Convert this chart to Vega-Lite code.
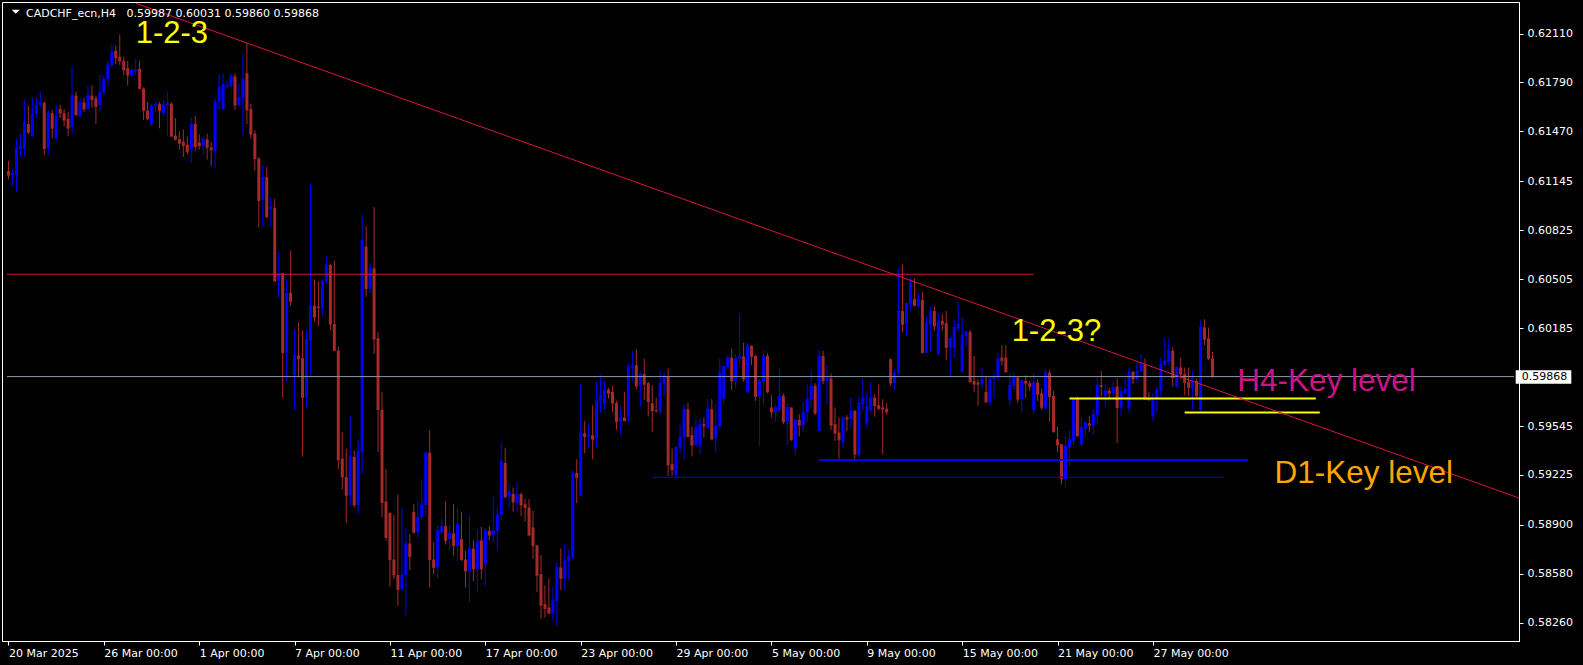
{
"$schema":"https://vega.github.io/schema/vega-lite/v6.json",
"background":"#000000",
"width":1517,"height":639,
"autosize":{"type":"none"},
"padding":{"left":2,"top":2,"right":64,"bottom":24},
"datasets":{
"candles":[
{"i":0,"o":0.61211,"h":0.61278,"l":0.61158,"c":0.61184},
{"i":1,"o":0.61184,"h":0.61224,"l":0.61118,"c":0.61198},
{"i":2,"o":0.61184,"h":0.61424,"l":0.61078,"c":0.61358},
{"i":3,"o":0.61358,"h":0.61451,"l":0.61304,"c":0.61371},
{"i":4,"o":0.61358,"h":0.61678,"l":0.61304,"c":0.61531},
{"i":5,"o":0.61518,"h":0.61638,"l":0.61451,"c":0.61464},
{"i":6,"o":0.61438,"h":0.61691,"l":0.61438,"c":0.61584},
{"i":7,"o":0.61584,"h":0.61691,"l":0.61558,"c":0.61643},
{"i":8,"o":0.61643,"h":0.61731,"l":0.61624,"c":0.61659},
{"i":9,"o":0.61659,"h":0.61664,"l":0.61318,"c":0.61358},
{"i":10,"o":0.61358,"h":0.61611,"l":0.61318,"c":0.6159},
{"i":11,"o":0.6159,"h":0.61611,"l":0.61424,"c":0.61491},
{"i":12,"o":0.61424,"h":0.61643,"l":0.61411,"c":0.61571},
{"i":13,"o":0.61616,"h":0.61643,"l":0.61558,"c":0.6159},
{"i":14,"o":0.6159,"h":0.61616,"l":0.61504,"c":0.61544},
{"i":15,"o":0.61552,"h":0.61598,"l":0.61438,"c":0.61491},
{"i":16,"o":0.61499,"h":0.61891,"l":0.61451,"c":0.61704},
{"i":17,"o":0.61704,"h":0.61731,"l":0.61571,"c":0.61579},
{"i":18,"o":0.61571,"h":0.61691,"l":0.61558,"c":0.61659},
{"i":19,"o":0.61659,"h":0.61691,"l":0.61598,"c":0.61616},
{"i":20,"o":0.61616,"h":0.61771,"l":0.61611,"c":0.61704},
{"i":21,"o":0.61704,"h":0.61771,"l":0.61624,"c":0.61678},
{"i":22,"o":0.61686,"h":0.61704,"l":0.61518,"c":0.61632},
{"i":23,"o":0.61643,"h":0.61838,"l":0.61598,"c":0.61723},
{"i":24,"o":0.61723,"h":0.61838,"l":0.61704,"c":0.61811},
{"i":25,"o":0.61811,"h":0.61931,"l":0.61771,"c":0.61904},
{"i":26,"o":0.61904,"h":0.62038,"l":0.61891,"c":0.6199},
{"i":27,"o":0.61998,"h":0.62032,"l":0.6191,"c":0.6195},
{"i":28,"o":0.61958,"h":0.62104,"l":0.61904,"c":0.61931},
{"i":29,"o":0.61931,"h":0.61958,"l":0.61838,"c":0.61872},
{"i":30,"o":0.61883,"h":0.61931,"l":0.61771,"c":0.61838},
{"i":31,"o":0.61838,"h":0.61883,"l":0.61824,"c":0.6187},
{"i":32,"o":0.61864,"h":0.61944,"l":0.61838,"c":0.61872},
{"i":33,"o":0.61878,"h":0.61931,"l":0.61744,"c":0.6175},
{"i":34,"o":0.6175,"h":0.61758,"l":0.61544,"c":0.61606},
{"i":35,"o":0.61606,"h":0.61664,"l":0.61544,"c":0.61552},
{"i":36,"o":0.61518,"h":0.61651,"l":0.61504,"c":0.61638},
{"i":37,"o":0.61638,"h":0.61664,"l":0.61598,"c":0.61648},
{"i":38,"o":0.61648,"h":0.61664,"l":0.61491,"c":0.61606},
{"i":39,"o":0.6159,"h":0.61678,"l":0.61571,"c":0.61643},
{"i":40,"o":0.61643,"h":0.61731,"l":0.61438,"c":0.61651},
{"i":41,"o":0.61651,"h":0.61659,"l":0.61438,"c":0.61438},
{"i":42,"o":0.61443,"h":0.61558,"l":0.61411,"c":0.61419},
{"i":43,"o":0.61419,"h":0.61472,"l":0.6135,"c":0.61392},
{"i":44,"o":0.61403,"h":0.61483,"l":0.61304,"c":0.61376},
{"i":45,"o":0.61384,"h":0.61438,"l":0.61323,"c":0.61339},
{"i":46,"o":0.6135,"h":0.61563,"l":0.61264,"c":0.61518},
{"i":47,"o":0.61518,"h":0.61571,"l":0.61344,"c":0.61371},
{"i":48,"o":0.61398,"h":0.61451,"l":0.6135,"c":0.61376},
{"i":49,"o":0.61376,"h":0.61438,"l":0.61318,"c":0.61419},
{"i":50,"o":0.61419,"h":0.61456,"l":0.61286,"c":0.61366},
{"i":51,"o":0.61366,"h":0.61403,"l":0.61243,"c":0.6135},
{"i":52,"o":0.61344,"h":0.61691,"l":0.61232,"c":0.61664},
{"i":53,"o":0.61664,"h":0.61846,"l":0.61611,"c":0.61758},
{"i":54,"o":0.61616,"h":0.61851,"l":0.61611,"c":0.61776},
{"i":55,"o":0.61763,"h":0.61798,"l":0.6175,"c":0.61768},
{"i":56,"o":0.61766,"h":0.61851,"l":0.61758,"c":0.6183},
{"i":57,"o":0.6183,"h":0.61851,"l":0.61611,"c":0.61643},
{"i":58,"o":0.61643,"h":0.61784,"l":0.61632,"c":0.61691},
{"i":59,"o":0.61691,"h":0.61971,"l":0.61438,"c":0.61811},
{"i":60,"o":0.61851,"h":0.62051,"l":0.61518,"c":0.61611},
{"i":61,"o":0.61616,"h":0.61651,"l":0.61424,"c":0.61451},
{"i":62,"o":0.61456,"h":0.61478,"l":0.61216,"c":0.61291},
{"i":63,"o":0.61291,"h":0.61304,"l":0.60844,"c":0.61019},
{"i":64,"o":0.61024,"h":0.61251,"l":0.60851,"c":0.61171},
{"i":65,"o":0.61171,"h":0.61238,"l":0.60904,"c":0.60912},
{"i":66,"o":0.60966,"h":0.61038,"l":0.60851,"c":0.60976},
{"i":67,"o":0.60971,"h":0.6103,"l":0.60491,"c":0.60491},
{"i":68,"o":0.60491,"h":0.60683,"l":0.60384,"c":0.60539},
{"i":69,"o":0.60544,"h":0.60544,"l":0.59731,"c":0.60024},
{"i":70,"o":0.60024,"h":0.60504,"l":0.59837,"c":0.60411},
{"i":71,"o":0.60416,"h":0.60691,"l":0.60331,"c":0.60358},
{"i":72,"o":0.59878,"h":0.60176,"l":0.59651,"c":0.60006},
{"i":73,"o":0.60006,"h":0.60222,"l":0.59864,"c":0.59984},
{"i":74,"o":0.59989,"h":0.60171,"l":0.59344,"c":0.59731},
{"i":75,"o":0.59731,"h":0.60171,"l":0.59664,"c":0.60112},
{"i":76,"o":0.60104,"h":0.61131,"l":0.59878,"c":0.60331},
{"i":77,"o":0.60331,"h":0.60504,"l":0.60224,"c":0.60256},
{"i":78,"o":0.60326,"h":0.60491,"l":0.60198,"c":0.60318},
{"i":79,"o":0.60318,"h":0.60504,"l":0.60264,"c":0.60491},
{"i":80,"o":0.60491,"h":0.60651,"l":0.60478,"c":0.60598},
{"i":81,"o":0.60598,"h":0.60603,"l":0.60171,"c":0.60211},
{"i":82,"o":0.60211,"h":0.60624,"l":0.60038,"c":0.60038},
{"i":83,"o":0.60038,"h":0.60064,"l":0.59264,"c":0.59323},
{"i":84,"o":0.59331,"h":0.59504,"l":0.59131,"c":0.59211},
{"i":85,"o":0.59211,"h":0.59397,"l":0.58912,"c":0.59091},
{"i":86,"o":0.59091,"h":0.59611,"l":0.59024,"c":0.59344},
{"i":87,"o":0.59344,"h":0.59384,"l":0.59011,"c":0.59029},
{"i":88,"o":0.59029,"h":0.59456,"l":0.58971,"c":0.59376},
{"i":89,"o":0.59376,"h":0.60923,"l":0.59232,"c":0.60758},
{"i":90,"o":0.60718,"h":0.60851,"l":0.6039,"c":0.60443},
{"i":91,"o":0.60443,"h":0.60611,"l":0.60411,"c":0.60576},
{"i":92,"o":0.60576,"h":0.60976,"l":0.60016,"c":0.60112},
{"i":93,"o":0.60118,"h":0.60158,"l":0.59376,"c":0.59651},
{"i":94,"o":0.59651,"h":0.59765,"l":0.58949,"c":0.59045},
{"i":95,"o":0.59051,"h":0.59264,"l":0.58797,"c":0.58816},
{"i":96,"o":0.58976,"h":0.58984,"l":0.58496,"c":0.58672},
{"i":97,"o":0.58672,"h":0.58965,"l":0.58544,"c":0.58571},
{"i":98,"o":0.58571,"h":0.59099,"l":0.58371,"c":0.58477},
{"i":99,"o":0.58477,"h":0.59011,"l":0.58469,"c":0.58571},
{"i":100,"o":0.58571,"h":0.58877,"l":0.58309,"c":0.58776},
{"i":101,"o":0.58776,"h":0.58837,"l":0.58603,"c":0.58691},
{"i":102,"o":0.58984,"h":0.59037,"l":0.58843,"c":0.58851},
{"i":103,"o":0.58851,"h":0.59051,"l":0.58816,"c":0.58949},
{"i":104,"o":0.58949,"h":0.59197,"l":0.58931,"c":0.59029},
{"i":105,"o":0.59029,"h":0.59376,"l":0.58957,"c":0.59371},
{"i":106,"o":0.59371,"h":0.59517,"l":0.58491,"c":0.58672},
{"i":107,"o":0.58672,"h":0.58784,"l":0.58576,"c":0.58619},
{"i":108,"o":0.58619,"h":0.58891,"l":0.58549,"c":0.58864},
{"i":109,"o":0.58851,"h":0.58939,"l":0.58837,"c":0.58891},
{"i":110,"o":0.58891,"h":0.59051,"l":0.58771,"c":0.58797},
{"i":111,"o":0.58805,"h":0.58891,"l":0.58731,"c":0.58843},
{"i":112,"o":0.58843,"h":0.59037,"l":0.58699,"c":0.58763},
{"i":113,"o":0.58763,"h":0.59011,"l":0.58664,"c":0.58904},
{"i":114,"o":0.58805,"h":0.58984,"l":0.58664,"c":0.58672},
{"i":115,"o":0.58672,"h":0.58731,"l":0.58491,"c":0.58597},
{"i":116,"o":0.58597,"h":0.58957,"l":0.58397,"c":0.58744},
{"i":117,"o":0.58744,"h":0.58797,"l":0.58531,"c":0.58611},
{"i":118,"o":0.58611,"h":0.58869,"l":0.58464,"c":0.58789},
{"i":119,"o":0.58797,"h":0.58885,"l":0.58544,"c":0.58611},
{"i":120,"o":0.58645,"h":0.58877,"l":0.58504,"c":0.58864},
{"i":121,"o":0.58859,"h":0.58891,"l":0.58797,"c":0.58832},
{"i":122,"o":0.58832,"h":0.59083,"l":0.58784,"c":0.58859},
{"i":123,"o":0.58859,"h":0.59011,"l":0.58731,"c":0.58965},
{"i":124,"o":0.58965,"h":0.59437,"l":0.58931,"c":0.59312},
{"i":125,"o":0.59304,"h":0.59403,"l":0.59072,"c":0.59083},
{"i":126,"o":0.59083,"h":0.59165,"l":0.59012,"c":0.59115},
{"i":127,"o":0.591,"h":0.59143,"l":0.58984,"c":0.59049},
{"i":128,"o":0.59041,"h":0.59176,"l":0.5898,"c":0.591},
{"i":129,"o":0.591,"h":0.5911,"l":0.58958,"c":0.59028},
{"i":130,"o":0.59034,"h":0.59071,"l":0.58919,"c":0.59012},
{"i":131,"o":0.59012,"h":0.59067,"l":0.58827,"c":0.58832},
{"i":132,"o":0.58882,"h":0.58991,"l":0.58675,"c":0.58762},
{"i":133,"o":0.58766,"h":0.58766,"l":0.58461,"c":0.5857},
{"i":134,"o":0.58577,"h":0.58701,"l":0.58283,"c":0.58374},
{"i":135,"o":0.58381,"h":0.58505,"l":0.58294,"c":0.58352},
{"i":136,"o":0.58359,"h":0.58548,"l":0.58315,"c":0.58322},
{"i":137,"o":0.58322,"h":0.58496,"l":0.58272,"c":0.58403},
{"i":138,"o":0.58403,"h":0.58653,"l":0.58239,"c":0.5862},
{"i":139,"o":0.5862,"h":0.58745,"l":0.58474,"c":0.58548},
{"i":140,"o":0.58548,"h":0.58773,"l":0.58474,"c":0.58664},
{"i":141,"o":0.58664,"h":0.5874,"l":0.5854,"c":0.58692},
{"i":142,"o":0.58686,"h":0.59252,"l":0.58675,"c":0.59237},
{"i":143,"o":0.59237,"h":0.59328,"l":0.59041,"c":0.59208},
{"i":144,"o":0.59089,"h":0.59818,"l":0.59084,"c":0.59498},
{"i":145,"o":0.59498,"h":0.59579,"l":0.59367,"c":0.59476},
{"i":146,"o":0.5948,"h":0.59563,"l":0.59398,"c":0.59485},
{"i":147,"o":0.59485,"h":0.59681,"l":0.59328,"c":0.59459},
{"i":148,"o":0.59463,"h":0.59834,"l":0.59404,"c":0.59709},
{"i":149,"o":0.59709,"h":0.59877,"l":0.59633,"c":0.59746},
{"i":150,"o":0.59688,"h":0.5984,"l":0.59655,"c":0.59781},
{"i":151,"o":0.59781,"h":0.59796,"l":0.59725,"c":0.59759},
{"i":152,"o":0.59768,"h":0.59807,"l":0.59637,"c":0.59694},
{"i":153,"o":0.59694,"h":0.59709,"l":0.5952,"c":0.59572},
{"i":154,"o":0.59572,"h":0.59666,"l":0.59485,"c":0.596},
{"i":155,"o":0.596,"h":0.59768,"l":0.59579,"c":0.59579},
{"i":156,"o":0.59607,"h":0.59949,"l":0.59572,"c":0.59927},
{"i":157,"o":0.59927,"h":0.60036,"l":0.5984,"c":0.59938},
{"i":158,"o":0.59942,"h":0.60047,"l":0.59786,"c":0.59807},
{"i":159,"o":0.59807,"h":0.59899,"l":0.59672,"c":0.59884},
{"i":160,"o":0.59884,"h":0.59986,"l":0.59716,"c":0.59818},
{"i":161,"o":0.59825,"h":0.59834,"l":0.59607,"c":0.59703},
{"i":162,"o":0.59694,"h":0.59812,"l":0.59507,"c":0.59644},
{"i":163,"o":0.59648,"h":0.59731,"l":0.59633,"c":0.59644},
{"i":164,"o":0.59637,"h":0.59905,"l":0.59622,"c":0.59825},
{"i":165,"o":0.59818,"h":0.59899,"l":0.59742,"c":0.59868},
{"i":166,"o":0.59868,"h":0.59921,"l":0.59219,"c":0.59289},
{"i":167,"o":0.59296,"h":0.59398,"l":0.59219,"c":0.59259},
{"i":168,"o":0.59224,"h":0.59415,"l":0.59202,"c":0.59404},
{"i":169,"o":0.59404,"h":0.5955,"l":0.59367,"c":0.5947},
{"i":170,"o":0.5947,"h":0.59688,"l":0.59324,"c":0.59655},
{"i":171,"o":0.59655,"h":0.59698,"l":0.5947,"c":0.59476},
{"i":172,"o":0.59485,"h":0.59542,"l":0.59346,"c":0.5942},
{"i":173,"o":0.5942,"h":0.59594,"l":0.59411,"c":0.59535},
{"i":174,"o":0.59415,"h":0.59594,"l":0.59361,"c":0.59557},
{"i":175,"o":0.59557,"h":0.596,"l":0.5947,"c":0.59546},
{"i":176,"o":0.59535,"h":0.5972,"l":0.59529,"c":0.59655},
{"i":177,"o":0.59655,"h":0.5972,"l":0.59455,"c":0.59459},
{"i":178,"o":0.59463,"h":0.59688,"l":0.59372,"c":0.59546},
{"i":179,"o":0.59546,"h":0.59986,"l":0.5952,"c":0.59894},
{"i":180,"o":0.59725,"h":0.59942,"l":0.59688,"c":0.59934},
{"i":181,"o":0.59927,"h":0.60008,"l":0.59916,"c":0.59992},
{"i":182,"o":0.59992,"h":0.60051,"l":0.59781,"c":0.5984},
{"i":183,"o":0.5984,"h":0.60014,"l":0.59796,"c":0.59986},
{"i":184,"o":0.59986,"h":0.60282,"l":0.59942,"c":0.59999},
{"i":185,"o":0.59999,"h":0.6009,"l":0.59834,"c":0.59851},
{"i":186,"o":0.59764,"h":0.60086,"l":0.59764,"c":0.60069},
{"i":187,"o":0.60069,"h":0.60073,"l":0.59942,"c":0.59999},
{"i":188,"o":0.60003,"h":0.60008,"l":0.59709,"c":0.59738},
{"i":189,"o":0.59738,"h":0.59855,"l":0.59415,"c":0.5984},
{"i":190,"o":0.59834,"h":0.60036,"l":0.59688,"c":0.60003},
{"i":191,"o":0.60003,"h":0.60021,"l":0.59759,"c":0.59768},
{"i":192,"o":0.59666,"h":0.59746,"l":0.596,"c":0.59637},
{"i":193,"o":0.59637,"h":0.59681,"l":0.59572,"c":0.59666},
{"i":194,"o":0.5965,"h":0.59921,"l":0.59637,"c":0.59742},
{"i":195,"o":0.59742,"h":0.59759,"l":0.59557,"c":0.59572},
{"i":196,"o":0.59572,"h":0.59694,"l":0.5942,"c":0.59666},
{"i":197,"o":0.59666,"h":0.59666,"l":0.59448,"c":0.59455},
{"i":198,"o":0.59398,"h":0.5959,"l":0.59354,"c":0.59585},
{"i":199,"o":0.59585,"h":0.59622,"l":0.59476,"c":0.5955},
{"i":200,"o":0.5955,"h":0.59703,"l":0.59502,"c":0.59633},
{"i":201,"o":0.59633,"h":0.59818,"l":0.59572,"c":0.5972},
{"i":202,"o":0.59716,"h":0.59916,"l":0.59659,"c":0.59807},
{"i":203,"o":0.59807,"h":0.59825,"l":0.59616,"c":0.59629},
{"i":204,"o":0.59513,"h":0.60043,"l":0.59513,"c":0.60003},
{"i":205,"o":0.60003,"h":0.60036,"l":0.59818,"c":0.5984},
{"i":206,"o":0.5984,"h":0.59942,"l":0.59688,"c":0.59855},
{"i":207,"o":0.59855,"h":0.5989,"l":0.5952,"c":0.5955},
{"i":208,"o":0.59557,"h":0.59666,"l":0.59448,"c":0.59498},
{"i":209,"o":0.59502,"h":0.596,"l":0.59328,"c":0.59455},
{"i":210,"o":0.59437,"h":0.59607,"l":0.59398,"c":0.596},
{"i":211,"o":0.596,"h":0.59616,"l":0.59513,"c":0.5959},
{"i":212,"o":0.5959,"h":0.59731,"l":0.59529,"c":0.59644},
{"i":213,"o":0.59644,"h":0.5965,"l":0.59317,"c":0.59361},
{"i":214,"o":0.59354,"h":0.59738,"l":0.59339,"c":0.59694},
{"i":215,"o":0.59688,"h":0.59851,"l":0.5965,"c":0.59725},
{"i":216,"o":0.59563,"h":0.59759,"l":0.59535,"c":0.59672},
{"i":217,"o":0.5965,"h":0.59834,"l":0.59637,"c":0.59731},
{"i":218,"o":0.59731,"h":0.59753,"l":0.59607,"c":0.59677},
{"i":219,"o":0.59681,"h":0.59818,"l":0.5965,"c":0.59659},
{"i":220,"o":0.59666,"h":0.5972,"l":0.59361,"c":0.59655},
{"i":221,"o":0.59659,"h":0.59694,"l":0.59616,"c":0.59637},
{"i":222,"o":0.59982,"h":0.59986,"l":0.59807,"c":0.59825},
{"i":223,"o":0.59825,"h":0.59916,"l":0.59781,"c":0.5989},
{"i":224,"o":0.5989,"h":0.6058,"l":0.59877,"c":0.60297},
{"i":225,"o":0.60297,"h":0.60602,"l":0.6016,"c":0.6021},
{"i":226,"o":0.6021,"h":0.60347,"l":0.6013,"c":0.60347},
{"i":227,"o":0.60341,"h":0.60515,"l":0.60304,"c":0.60482},
{"i":228,"o":0.60374,"h":0.60509,"l":0.60326,"c":0.60334},
{"i":229,"o":0.6033,"h":0.60413,"l":0.60319,"c":0.60374},
{"i":230,"o":0.60369,"h":0.60422,"l":0.60021,"c":0.60025},
{"i":231,"o":0.60025,"h":0.6026,"l":0.60021,"c":0.60217},
{"i":232,"o":0.6021,"h":0.60326,"l":0.60025,"c":0.60297},
{"i":233,"o":0.60297,"h":0.60326,"l":0.60167,"c":0.60199},
{"i":234,"o":0.60014,"h":0.60282,"l":0.60008,"c":0.60232},
{"i":235,"o":0.60232,"h":0.60276,"l":0.60167,"c":0.6021},
{"i":236,"o":0.60217,"h":0.60297,"l":0.59977,"c":0.60058},
{"i":237,"o":0.60058,"h":0.60117,"l":0.59868,"c":0.60117},
{"i":238,"o":0.60058,"h":0.60243,"l":0.59986,"c":0.60189},
{"i":239,"o":0.60182,"h":0.60352,"l":0.60167,"c":0.6021},
{"i":240,"o":0.59899,"h":0.60254,"l":0.59894,"c":0.60138},
{"i":241,"o":0.60134,"h":0.60167,"l":0.60069,"c":0.6016},
{"i":242,"o":0.6016,"h":0.60173,"l":0.59829,"c":0.59834},
{"i":243,"o":0.5984,"h":0.60003,"l":0.59768,"c":0.59818},
{"i":244,"o":0.59829,"h":0.59851,"l":0.59677,"c":0.59818},
{"i":245,"o":0.59818,"h":0.59921,"l":0.5979,"c":0.59851},
{"i":246,"o":0.59768,"h":0.59873,"l":0.59694,"c":0.59703},
{"i":247,"o":0.59698,"h":0.59868,"l":0.59677,"c":0.59851},
{"i":248,"o":0.59851,"h":0.59894,"l":0.59725,"c":0.59862},
{"i":249,"o":0.59868,"h":0.60025,"l":0.5984,"c":0.59982},
{"i":250,"o":0.59992,"h":0.60073,"l":0.59942,"c":0.59971},
{"i":251,"o":0.59992,"h":0.60073,"l":0.59894,"c":0.59899},
{"i":252,"o":0.59716,"h":0.59894,"l":0.59677,"c":0.59812},
{"i":253,"o":0.59807,"h":0.5989,"l":0.59781,"c":0.59862},
{"i":254,"o":0.59862,"h":0.59868,"l":0.59698,"c":0.5972},
{"i":255,"o":0.5972,"h":0.59851,"l":0.59637,"c":0.5984},
{"i":256,"o":0.5984,"h":0.59877,"l":0.59725,"c":0.59825},
{"i":257,"o":0.59825,"h":0.5984,"l":0.59775,"c":0.59803},
{"i":258,"o":0.5965,"h":0.5989,"l":0.59622,"c":0.59829},
{"i":259,"o":0.59829,"h":0.59851,"l":0.59709,"c":0.59753},
{"i":260,"o":0.59759,"h":0.5979,"l":0.5965,"c":0.59666},
{"i":261,"o":0.59659,"h":0.59916,"l":0.59655,"c":0.59894},
{"i":262,"o":0.59894,"h":0.59912,"l":0.59572,"c":0.59738},
{"i":263,"o":0.59742,"h":0.59775,"l":0.59502,"c":0.59507},
{"i":264,"o":0.59459,"h":0.59542,"l":0.59372,"c":0.5942},
{"i":265,"o":0.59426,"h":0.59426,"l":0.59165,"c":0.59198},
{"i":266,"o":0.59198,"h":0.59476,"l":0.59143,"c":0.59411},
{"i":267,"o":0.59404,"h":0.59513,"l":0.59289,"c":0.59459},
{"i":268,"o":0.59448,"h":0.59731,"l":0.5942,"c":0.59725},
{"i":269,"o":0.59725,"h":0.59738,"l":0.59476,"c":0.59481},
{"i":270,"o":0.59426,"h":0.596,"l":0.59411,"c":0.59535},
{"i":271,"o":0.59529,"h":0.59579,"l":0.59476,"c":0.59568},
{"i":272,"o":0.59563,"h":0.59611,"l":0.59507,"c":0.5955},
{"i":273,"o":0.5955,"h":0.59655,"l":0.59492,"c":0.59622},
{"i":274,"o":0.59616,"h":0.59862,"l":0.59563,"c":0.59812},
{"i":275,"o":0.59812,"h":0.59905,"l":0.59738,"c":0.59803},
{"i":276,"o":0.59742,"h":0.59818,"l":0.59672,"c":0.59775},
{"i":277,"o":0.59775,"h":0.59796,"l":0.59725,"c":0.59759},
{"i":278,"o":0.59759,"h":0.5984,"l":0.59738,"c":0.59796},
{"i":279,"o":0.59803,"h":0.59855,"l":0.59433,"c":0.59666},
{"i":280,"o":0.59666,"h":0.59803,"l":0.59611,"c":0.59768},
{"i":281,"o":0.59759,"h":0.59862,"l":0.59753,"c":0.59786},
{"i":282,"o":0.59659,"h":0.59927,"l":0.59633,"c":0.59899},
{"i":283,"o":0.59899,"h":0.59905,"l":0.59818,"c":0.59851},
{"i":284,"o":0.59851,"h":0.59964,"l":0.59825,"c":0.59905},
{"i":285,"o":0.59905,"h":0.60014,"l":0.59899,"c":0.59955},
{"i":286,"o":0.59949,"h":0.59986,"l":0.59716,"c":0.5972},
{"i":287,"o":0.59725,"h":0.59768,"l":0.59709,"c":0.59716},
{"i":288,"o":0.59611,"h":0.59759,"l":0.59579,"c":0.59725},
{"i":289,"o":0.59725,"h":0.59803,"l":0.59633,"c":0.59781},
{"i":290,"o":0.59775,"h":0.59992,"l":0.59742,"c":0.59949},
{"i":291,"o":0.59942,"h":0.60117,"l":0.59938,"c":0.59971},
{"i":292,"o":0.59964,"h":0.60117,"l":0.59942,"c":0.60036},
{"i":293,"o":0.60036,"h":0.60058,"l":0.59803,"c":0.59862},
{"i":294,"o":0.59803,"h":0.59934,"l":0.59796,"c":0.59927},
{"i":295,"o":0.59927,"h":0.59992,"l":0.59851,"c":0.59884},
{"i":296,"o":0.59884,"h":0.59927,"l":0.59746,"c":0.59829},
{"i":297,"o":0.59834,"h":0.59927,"l":0.59742,"c":0.59796},
{"i":298,"o":0.5979,"h":0.59905,"l":0.59655,"c":0.59829},
{"i":299,"o":0.5984,"h":0.59855,"l":0.59731,"c":0.59742},
{"i":300,"o":0.5965,"h":0.60232,"l":0.59644,"c":0.60189},
{"i":301,"o":0.60189,"h":0.60243,"l":0.60073,"c":0.60112},
{"i":302,"o":0.60117,"h":0.60189,"l":0.59977,"c":0.59986},
{"i":303,"o":0.59987,"h":0.60031,"l":0.5986,"c":0.59868}
],
"levels":[
{"name":"resistance","p":0.60537,"from":-0.375,"to":258},
{"name":"bid","p":0.59868,"from":-0.375,"to":378.875},
{"name":"d1 low","p":0.5921,"from":162,"to":306},
{"name":"d1 key","p":0.59323,"from":204,"to":312},
{"name":"h4 upper","p":0.59724,"from":267,"to":329},
{"name":"h4 lower","p":0.59633,"from":296,"to":330}
],
"trend":[{"i":32,"p":0.62308},{"i":400,"p":0.5889}],
"notes":[
{"t":"1-2-3","i":32.0,"p":0.62048,"kind":"pattern"},
{"t":"1-2-3?","i":252.45,"p":0.60098,"kind":"pattern"},
{"t":"H4-Key level","i":309.2,"p":0.59774,"kind":"h4"},
{"t":"D1-Key level","i":318.6,"p":0.59175,"kind":"d1"}
],
"header":[{"t":"CADCHF_ecn,H4\u00a0\u00a0 0.59987 0.60031 0.59860 0.59868","i":4.4,"p":0.6222}],
"marker":[{"i":1.825,"p":0.62253}],
"bidbox":[{"x1":379.3,"x2":393.3,"lo":0.59821,"hi":0.5991,"t":"0.59868","tx":380.8,"p":0.59868}]
},
"encoding":{
 "x":{"type":"quantitative","scale":{"domain":[-0.375,378.875],"nice":false,"zero":false},
   "axis":{"values":[0,24,48,72,96,120,144,168,192,216,240,264,288],
    "labelExpr":"['20 Mar 2025','26 Mar 00:00','1 Apr 00:00','7 Apr 00:00','11 Apr 00:00','17 Apr 00:00','23 Apr 00:00','29 Apr 00:00','5 May 00:00','9 May 00:00','15 May 00:00','21 May 00:00','27 May 00:00'][round(datum.value/24)]",
    "labelAlign":"left","labelBaseline":"top","tickSize":4,"labelPadding":2,"labelDx":-1,"title":null,"grid":false,"labelFlush":false,"labelOverlap":false}},
 "y":{"type":"quantitative","scale":{"domain":[0.5814,0.62316],"nice":false,"zero":false},
   "axis":{"orient":"right","values":[0.6211,0.6179,0.6147,0.61145,0.60825,0.60505,0.60185,0.59545,0.59225,0.589,0.5858,0.5826],
    "format":".5f","labelAlign":"left","labelBaseline":"middle","tickSize":4,"labelPadding":4,"title":null,"grid":false,"labelOverlap":false,"labelFlush":false}}
},
"layer":[
{"data":{"name":"candles"},"mark":{"type":"rule","strokeWidth":1},
 "encoding":{"x":{"field":"i"},"y":{"field":"l"},"y2":{"field":"h"},
  "color":{"condition":{"test":"datum.c >= datum.o","value":"#0000ff"},"value":"#a52a2a"}}},
{"data":{"name":"candles"},"mark":{"type":"bar","size":3},
 "encoding":{"x":{"field":"i"},"y":{"field":"o"},"y2":{"field":"c"},
  "color":{"condition":{"test":"datum.c >= datum.o","value":"#0000ff"},"value":"#a52a2a"}}},
{"data":{"name":"candles"},"mark":{"type":"tick","orient":"horizontal","size":3,"thickness":1},
 "encoding":{"x":{"field":"i"},"y":{"field":"c"},
  "color":{"condition":{"test":"datum.c >= datum.o","value":"#0000ff"},"value":"#a52a2a"}}},
{"data":{"name":"levels"},"transform":[{"filter":"datum.name == 'bid'"}],"mark":{"type":"rule","color":"#8a98a8","strokeWidth":1},
 "encoding":{"x":{"field":"from"},"x2":{"field":"to"},"y":{"field":"p"}}},
{"data":{"name":"levels"},"transform":[{"filter":"datum.name == 'resistance'"}],"mark":{"type":"rule","color":"#dc143c","strokeWidth":1},
 "encoding":{"x":{"field":"from"},"x2":{"field":"to"},"y":{"field":"p"}}},
{"data":{"name":"levels"},"transform":[{"filter":"datum.name == 'd1 low'"}],"mark":{"type":"rule","color":"#0000ff","strokeWidth":1},
 "encoding":{"x":{"field":"from"},"x2":{"field":"to"},"y":{"field":"p"}}},
{"data":{"name":"levels"},"transform":[{"filter":"datum.name == 'd1 key'"}],"mark":{"type":"rule","color":"#0000ff","strokeWidth":2},
 "encoding":{"x":{"field":"from"},"x2":{"field":"to"},"y":{"field":"p"}}},
{"data":{"name":"levels"},"transform":[{"filter":"datum.name == 'h4 upper' || datum.name == 'h4 lower'"}],"mark":{"type":"rule","color":"#ffff00","strokeWidth":2},
 "encoding":{"x":{"field":"from"},"x2":{"field":"to"},"y":{"field":"p"}}},
{"data":{"name":"trend"},"mark":{"type":"line","clip":true,"color":"#dc143c","strokeWidth":1},
 "encoding":{"x":{"field":"i"},"y":{"field":"p"}}},
{"data":{"name":"notes"},"transform":[{"filter":"datum.kind == 'pattern'"}],"mark":{"type":"text","align":"left","baseline":"alphabetic","font":"Liberation Sans","fontSize":31,"color":"#ffff00"},
 "encoding":{"x":{"field":"i"},"y":{"field":"p"},"text":{"field":"t"}}},
{"data":{"name":"notes"},"transform":[{"filter":"datum.kind == 'h4'"}],"mark":{"type":"text","align":"left","baseline":"alphabetic","font":"Liberation Sans","fontSize":31.5,"color":"#c71585"},
 "encoding":{"x":{"field":"i"},"y":{"field":"p"},"text":{"field":"t"}}},
{"data":{"name":"notes"},"transform":[{"filter":"datum.kind == 'd1'"}],"mark":{"type":"text","align":"left","baseline":"alphabetic","font":"Liberation Sans","fontSize":31.5,"color":"#ffa500"},
 "encoding":{"x":{"field":"i"},"y":{"field":"p"},"text":{"field":"t"}}},
{"data":{"name":"header"},"mark":{"type":"text","align":"left","baseline":"alphabetic","font":"DejaVu Sans","fontSize":11,"color":"#ffffff"},
 "encoding":{"x":{"field":"i"},"y":{"field":"p"},"text":{"field":"t"}}},
{"data":{"name":"marker"},"mark":{"type":"point","filled":true,"shape":"M-1,-0.5L1,-0.5L0,0.5Z","size":64,"color":"#ffffff","opacity":1,"strokeWidth":0},
 "encoding":{"x":{"field":"i"},"y":{"field":"p"}}},
{"data":{"name":"bidbox"},"mark":{"type":"rect","color":"#ffffff"},
 "encoding":{"x":{"field":"x1"},"x2":{"field":"x2"},"y":{"field":"lo"},"y2":{"field":"hi"}}},
{"data":{"name":"bidbox"},"mark":{"type":"text","align":"left","baseline":"middle","font":"DejaVu Sans","fontSize":11,"color":"#000000"},
 "encoding":{"x":{"field":"tx"},"y":{"field":"p"},"text":{"field":"t"}}}
],
"config":{
 "view":{"stroke":"#ffffff","strokeWidth":1},
 "axis":{"domainColor":"#ffffff","tickColor":"#ffffff","labelColor":"#ffffff","labelFont":"DejaVu Sans","labelFontSize":11,"grid":false,"domainWidth":1,"tickWidth":1}
}
}
